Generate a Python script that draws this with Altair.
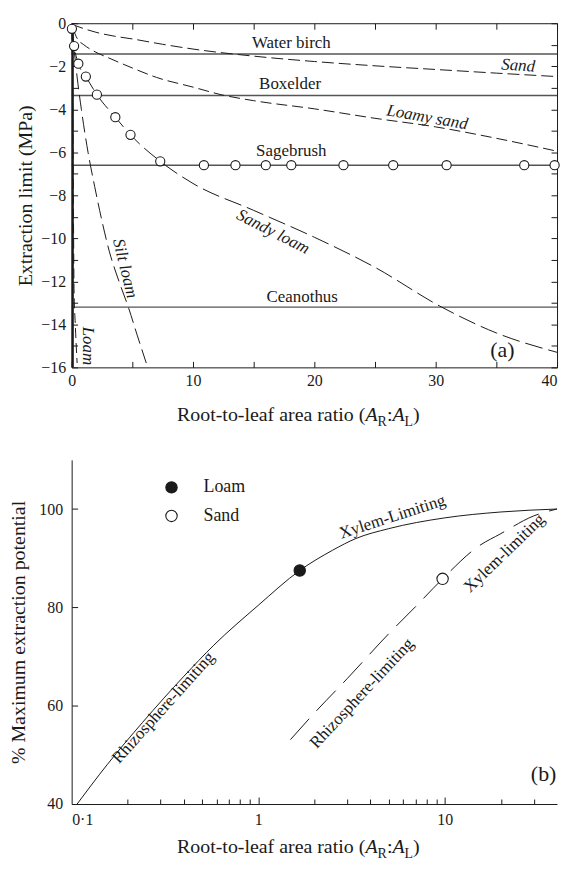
import altair as alt
import pandas as pd

FONT = "Liberation Serif"
INK = "#1a1a1a"
LINE_GREY = "#555555"
W, H = 488, 346

# ---------------- Panel (a): extraction limit vs root:leaf area ----------------
sand_x = [0, 1, 2, 3.5, 5, 7.5, 10, 15, 20, 25, 30, 35, 40]
sand_y = [-0.05, -0.25, -0.42, -0.6, -0.73, -0.98, -1.2, -1.53, -1.78, -1.98, -2.15, -2.32, -2.48]

loamy_sand_x = [0.1, 0.5, 1, 2, 3, 5, 7, 10, 12.3, 15, 20, 25, 30, 35, 40]
loamy_sand_y = [-0.25, -0.75, -1.0, -1.35, -1.6, -2.08, -2.52, -2.97, -3.32, -3.6, -3.98, -4.42, -4.82, -5.35, -5.95]

sandy_loam_x = [0.02, 0.2, 0.55, 1.17, 2.08, 3.6, 4.85, 7.3, 10, 15, 20, 25, 30.5, 35, 40]
sandy_loam_y = [-0.26, -1.06, -1.88, -2.48, -3.32, -4.37, -5.19, -6.42, -7.45, -8.7, -9.95, -11.35, -13.2, -14.4, -15.3]

silt_loam_x = [0.05, 0.2, 0.45, 0.8, 1.35, 1.9, 2.5, 3.1, 3.9, 4.7, 5.4, 6.15]
silt_loam_y = [-0.3, -1.2, -2.5, -4.0, -6.0, -7.6, -9.2, -10.6, -12.0, -13.25, -14.5, -15.8]

loam_x = [0.02, 0.06, 0.1, 0.15, 0.2, 0.3, 0.45]
loam_y = [-0.3, -2.0, -5.0, -9.0, -12.5, -14.0, -15.8]

clay_x = [0.08, 0.08]
clay_y = [0, -16]

species = ["Water birch", "Boxelder", "Sagebrush", "Ceanothus"]
species_limit = [-1.43, -3.36, -6.6, -13.2]
species_label_x = [18.1, 18.0, 18.1, 19.0]
species_label_y = [-0.92, -2.84, -5.94, -12.71]

obs_x = [0.02, 0.2, 0.55, 1.17, 2.08, 3.6, 4.85, 7.3,
         10.9, 13.5, 16.0, 18.1, 22.4, 26.5, 30.9, 37.3, 39.8]
obs_y = [-0.26, -1.06, -1.88, -2.48, -3.32, -4.37, -5.19, -6.42,
         -6.6, -6.6, -6.6, -6.6, -6.6, -6.6, -6.6, -6.6, -6.6]

soil_labels = ["Sand", "Loamy sand", "Sandy loam", "Silt loam", "Loam"]
soil_label_x = [36.8, 29.3, 16.6, 4.4, 1.35]
soil_label_y = [-1.97, -4.38, -9.7, -11.4, -15.0]
soil_label_angle = [4, 10, 27, 76, 90]

# ---------------- Panel (b): % maximum extraction potential ----------------
loam_b_x = [0.107, 0.155, 0.24, 0.4, 0.578, 1, 1.67, 2.5, 3.34, 5, 10, 20, 40]
loam_b_y = [40, 48.0, 56.6, 66.0, 72.3, 80.4, 87.5, 91.6, 94.0, 96.0, 98.2, 99.4, 100]
sand_b_x = [1.49, 2, 3, 5, 7, 9.74, 15, 20, 30, 40]
sand_b_y = [53.1, 58.5, 65.5, 74.6, 80.2, 85.8, 92.3, 95.0, 98.6, 100]

marker_soil = ["Loam", "Sand"]
marker_x = [1.67, 9.74]
marker_y = [87.5, 85.8]

legend_soil = ["Loam", "Sand"]
legend_x = [0.343, 0.343]
legend_text_x = [0.509, 0.509]
legend_y = [104.4, 98.6]

b_labels = ["Rhizosphere-limiting", "Xylem-Limiting", "Rhizosphere-limiting", "Xylem-limiting"]
b_label_x = [0.31, 5.24, 3.6, 20.9]
b_label_y = [59.6, 98.4, 62.5, 91.0]
b_label_angle = [312, 342, 313, 316]


def ax(**kw):
    base = dict(grid=False, labelFont=FONT, labelFontSize=16, labelColor=INK,
                domainColor=INK, tickColor=INK, titleFont=FONT, titleFontSize=20,
                titleFontWeight="normal", titleColor=INK, domainWidth=1, tickWidth=1)
    base.update(kw)
    return alt.Axis(**base)


def x_title_layer(y_base):
    segs = [("Root-to-leaf area ratio (", 20, "normal", 0, 9.469),
            ("A", 20, "italic", 0, 0.611),
            ("R", 14, "normal", 5, 0.667),
            (":", 20, "normal", 0, 0.278),
            ("A", 20, "italic", 0, 0.611),
            ("L", 14, "normal", 5, 0.611),
            (")", 20, "normal", 0, 0.333)]
    layers = []
    pos = 106
    for txt, fs, style, dy, em in segs:
        layers.append(
            alt.Chart(pd.DataFrame({"t": [txt]})).mark_text(
                align="left", baseline="alphabetic", font=FONT, fontSize=fs,
                fontStyle=style, color=INK
            ).encode(x=alt.value(pos), y=alt.value(y_base + dy), text="t:N")
        )
        pos += em * fs
    return layers


def frame(names, xs, ys):
    return pd.concat([pd.DataFrame({"soil": n, "x": x, "y": y, "i": list(range(len(x)))})
                      for n, x, y in zip(names, xs, ys)], ignore_index=True)


# ---------------- build panel (a) ----------------
xA = alt.Scale(domain=[0, 40], nice=False, zero=False)
yA = alt.Scale(domain=[-16, 0], nice=False, zero=False)
minus_expr = "datum.value < 0 ? '\u2212' + abs(datum.value) : '' + datum.value"

curves_a = frame(["Sand", "Loamy sand", "Sandy loam", "Silt loam", "Loam"],
                 [sand_x, loamy_sand_x, sandy_loam_x, silt_loam_x, loam_x],
                 [sand_y, loamy_sand_y, sandy_loam_y, silt_loam_y, loam_y])

a_curves = alt.Chart(curves_a).mark_line(color=INK, strokeWidth=1, interpolate="monotone").encode(
    x=alt.X("x:Q", scale=xA, axis=ax(orient="bottom", values=[0, 10, 20, 30, 40], ticks=False,
                                     labelPadding=5, format="d", title=None,
                                     labelAlign={"condition": {"test": "datum.value >= 40", "value": "right"},
                                                 "value": "center"})),
    y=alt.Y("y:Q", scale=yA, axis=ax(orient="left", values=list(range(-16, 1, 2)), ticks=False,
                                     labelPadding=6, labelExpr=minus_expr,
                                     title="Extraction limit (MPa)", titlePadding=5)),
    detail="soil:N",
    order="i:Q",
    strokeDash=alt.StrokeDash("soil:N", legend=None, scale=alt.Scale(
        domain=["Sand", "Loamy sand", "Sandy loam", "Silt loam", "Loam"],
        range=[[12, 5], [11, 5], [18, 6], [16, 6], [10, 5]])),
)

a_clay = alt.Chart(pd.DataFrame({"x": clay_x, "y": clay_y})).mark_line(color=INK, strokeWidth=2.4).encode(
    x=alt.X("x:Q", scale=xA, axis=ax(orient="top", offset=-H, values=list(range(0, 41, 5)), tickSize=6,
                                     labels=False, domain=False, title=None)),
    y=alt.Y("y:Q", scale=yA, axis=ax(orient="right", offset=-W, values=list(range(-16, 1)), tickSize=6,
                                     labels=False, domain=False, title=None)),
)

a_rules = alt.Chart(pd.DataFrame({"sp": species, "limit": species_limit})).mark_rule(
    color=LINE_GREY, strokeWidth=1.4).encode(
    y=alt.Y("limit:Q", scale=yA, axis=ax(orient="left", offset=-W, values=list(range(-16, 1)), tickSize=6,
                                         labels=False, domain=True, title=None)),
)

a_pts = alt.Chart(pd.DataFrame({"x": obs_x, "y": obs_y})).mark_point(
    shape="circle", filled=True, fill="white", stroke=INK, strokeWidth=1.1, size=85, opacity=1).encode(
    x=alt.X("x:Q", scale=xA, axis=ax(orient="bottom", offset=-H, values=list(range(0, 41, 5)), tickSize=6,
                                     labels=False, domain=True, title=None)),
    y=alt.Y("y:Q", scale=yA, axis=None),
)

a_sp_text = alt.Chart(pd.DataFrame({"t": species, "x": species_label_x, "y": species_label_y})).mark_text(
    font=FONT, fontSize=17, color=INK, align="center", baseline="middle").encode(
    x=alt.X("x:Q", scale=xA, axis=None), y=alt.Y("y:Q", scale=yA, axis=None), text="t:N")

a_soil_text = alt.Chart(pd.DataFrame({"t": soil_labels, "x": soil_label_x, "y": soil_label_y,
                                      "a": soil_label_angle})).mark_text(
    font=FONT, fontSize=17, fontStyle="italic", color=INK, align="center", baseline="middle").encode(
    x=alt.X("x:Q", scale=xA, axis=None), y=alt.Y("y:Q", scale=yA, axis=None), text="t:N",
    angle=alt.Angle("a:Q", scale=None))

a_tag = alt.Chart(pd.DataFrame({"t": ["(a)"], "x": [35.5], "y": [-15.2]})).mark_text(
    font=FONT, fontSize=22, color=INK, align="center", baseline="middle").encode(
    x=alt.X("x:Q", scale=xA, axis=None), y=alt.Y("y:Q", scale=yA, axis=None), text="t:N")

panel_a = alt.layer(a_rules, a_curves, a_clay, a_pts, a_sp_text, a_soil_text, a_tag,
                    *x_title_layer(H + 54)).resolve_axis(x="independent", y="independent").properties(
    width=W, height=H)

# ---------------- build panel (b) ----------------
xB = alt.Scale(type="log", domain=[0.1, 40], nice=False)
yB = alt.Scale(domain=[40, 110], nice=False, zero=False)
fillB = alt.Scale(domain=["Loam", "Sand"], range=[INK, "white"])
minor_ticks = [0.2, 0.3, 0.4, 0.5, 0.6, 0.7, 0.8, 0.9, 2, 3, 4, 5, 6, 7, 8, 9, 20, 30]

b_loam = alt.Chart(pd.DataFrame({"x": loam_b_x, "y": loam_b_y})).mark_line(
    color=INK, strokeWidth=1, interpolate="monotone").encode(
    x=alt.X("x:Q", scale=xB, axis=ax(orient="bottom", values=[0.1, 1, 10], ticks=False, labelPadding=8,
                                     labelExpr="datum.value < 0.5 ? '0\u00b71' : format(datum.value, 'd')",
                                     title=None)),
    y=alt.Y("y:Q", scale=yB, axis=ax(orient="left", values=[40, 60, 80, 100], ticks=False, labelPadding=9,
                                     title="% Maximum extraction potential", titlePadding=10)),
)

b_sand = alt.Chart(pd.DataFrame({"x": sand_b_x, "y": sand_b_y})).mark_line(
    color=INK, strokeWidth=1, strokeDash=[28, 11], interpolate="monotone").encode(
    x=alt.X("x:Q", scale=xB, axis=ax(orient="top", offset=-H, values=minor_ticks, tickSize=5,
                                     labels=False, domain=False, title=None)),
    y=alt.Y("y:Q", scale=yB, axis=ax(orient="right", offset=-W, values=[40, 60, 80, 100], tickSize=6,
                                     labels=False, domain=False, title=None)),
)

b_pts = alt.Chart(pd.DataFrame({"soil": marker_soil, "x": marker_x, "y": marker_y})).mark_point(
    shape="circle", filled=True, stroke=INK, strokeWidth=1.1, size=130, opacity=1).encode(
    x=alt.X("x:Q", scale=xB, axis=ax(orient="top", offset=-H, values=[1, 10], tickSize=7,
                                     labels=False, domain=False, title=None)),
    y=alt.Y("y:Q", scale=yB, axis=None),
    fill=alt.Fill("soil:N", scale=fillB, legend=None),
)

b_leg_pts = alt.Chart(pd.DataFrame({"soil": legend_soil, "x": legend_x, "y": legend_y})).mark_point(
    shape="circle", filled=True, stroke=INK, strokeWidth=1.1, size=130, opacity=1).encode(
    x=alt.X("x:Q", scale=xB, axis=None), y=alt.Y("y:Q", scale=yB, axis=None),
    fill=alt.Fill("soil:N", scale=fillB, legend=None),
)

b_leg_text = alt.Chart(pd.DataFrame({"soil": legend_soil, "x": legend_text_x, "y": legend_y})).mark_text(
    font=FONT, fontSize=18, color=INK, align="left", baseline="middle").encode(
    x=alt.X("x:Q", scale=xB, axis=None), y=alt.Y("y:Q", scale=yB, axis=None), text="soil:N")

b_text = alt.Chart(pd.DataFrame({"t": b_labels, "x": b_label_x, "y": b_label_y, "a": b_label_angle})).mark_text(
    font=FONT, fontSize=17, color=INK, align="center", baseline="middle").encode(
    x=alt.X("x:Q", scale=xB, axis=None), y=alt.Y("y:Q", scale=yB, axis=None), text="t:N",
    angle=alt.Angle("a:Q", scale=None))

b_tag = alt.Chart(pd.DataFrame({"t": ["(b)"], "x": [33.9], "y": [46.0]})).mark_text(
    font=FONT, fontSize=22, color=INK, align="center", baseline="middle").encode(
    x=alt.X("x:Q", scale=xB, axis=None), y=alt.Y("y:Q", scale=yB, axis=None), text="t:N")

panel_b = alt.layer(b_loam, b_sand, b_pts, b_leg_pts, b_leg_text, b_text, b_tag,
                    *x_title_layer(H + 49)).resolve_axis(x="independent", y="independent").properties(
    width=W, height=H)

chart = alt.vconcat(panel_a, panel_b, spacing=93, bounds="flush").configure_view(
    stroke=None).configure_axis(labelFont=FONT, titleFont=FONT).properties(
    padding={"left": 1, "top": 5, "right": 0, "bottom": 0}, background="white")

chart.save("out.html", embed_options={"renderer": "svg", "actions": False})
